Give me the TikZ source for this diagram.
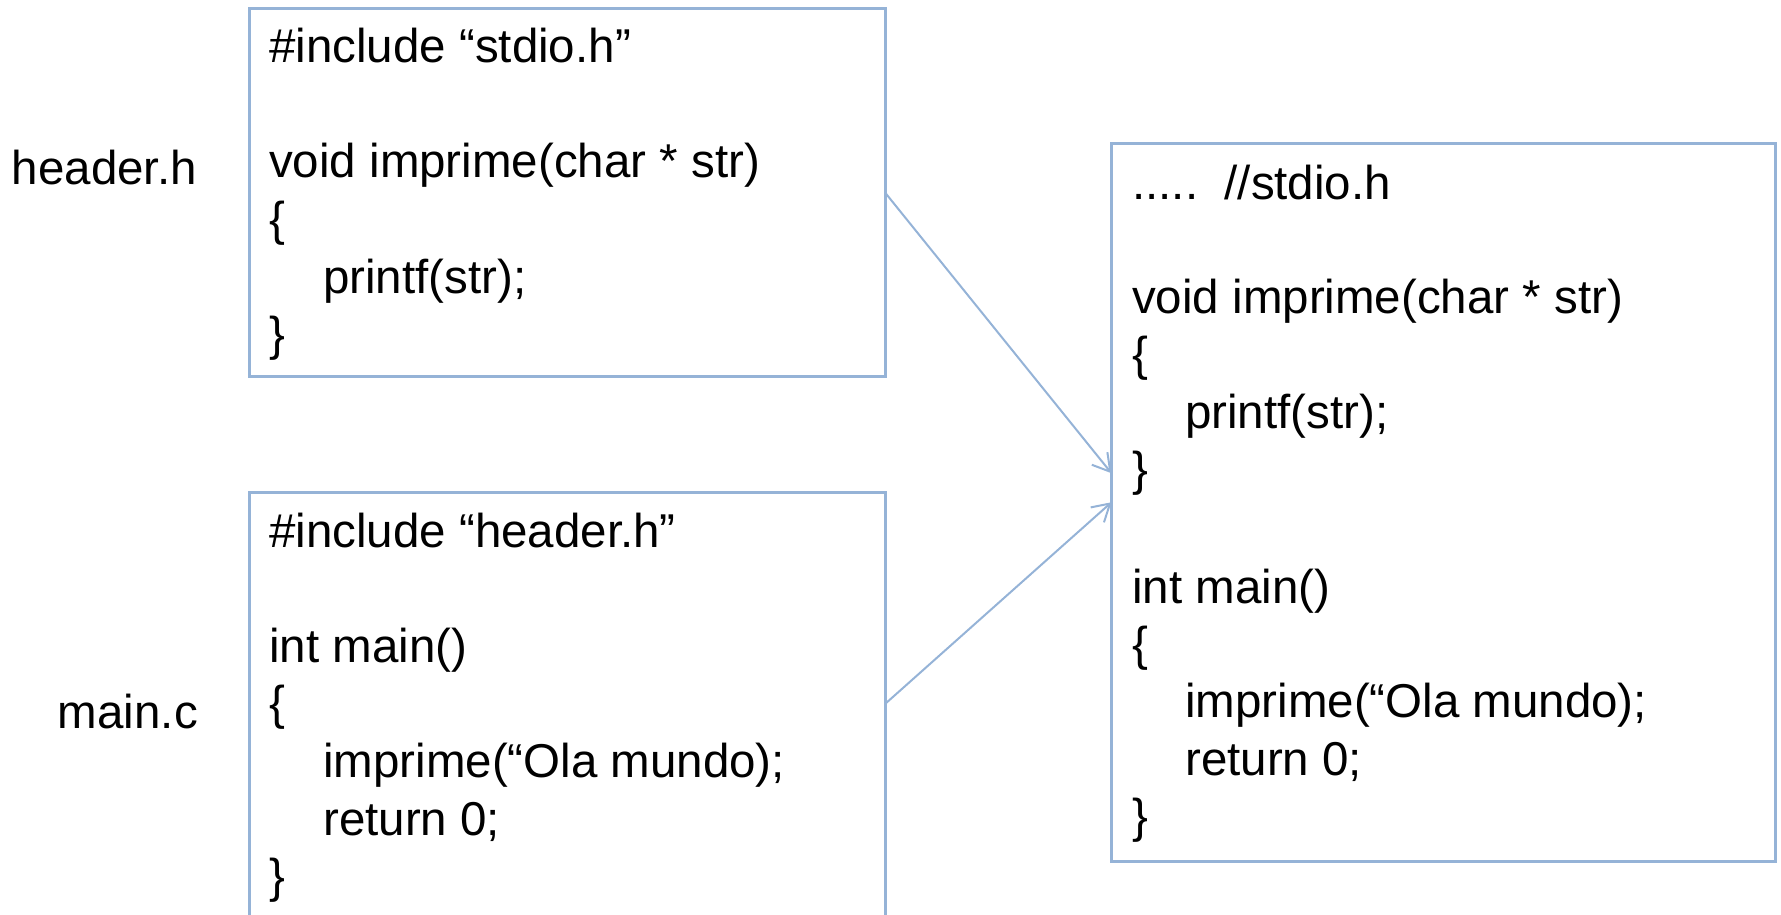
\documentclass[tikz,border=0pt]{standalone}
\usepackage{fontspec}
\setmainfont{Liberation Sans}
\usetikzlibrary{arrows.meta}
\definecolor{edgeblue}{RGB}{149,179,215}
\tikzset{
  codebox/.style={draw=edgeblue, line width=3pt, rectangle, inner sep=0pt, outer sep=0pt, fill=none},
  codeline/.style={anchor=base west, inner sep=0pt, font=\fontsize{47.5}{57}\selectfont},
  filelabel/.style={anchor=base east, inner sep=0pt, font=\fontsize{47.5}{57}\selectfont},
  link/.style={draw=edgeblue, line width=2pt, -{Straight Barb[length=17pt,width=20pt]}}
}
\begin{document}
\begin{tikzpicture}[x=1pt,y=-1pt]
\useasboundingbox (0,0) rectangle (1781,915);
\clip (0,0) rectangle (1781,915);
% boxes
\node[codebox, minimum width=636pt, minimum height=367pt] (b1) at (567,192.5) {};
\node[codebox, minimum width=636pt, minimum height=424pt] (b2) at (567,704) {};
\node[codebox, minimum width=664pt, minimum height=717.5pt] (b3) at (1443.5,502.25) {};
% labels
\node[filelabel] (lh) at (197,185) {header.h};
\node[filelabel] (lm) at (198,728) {main.c};
% box 1 text
\node[codeline] (t11) at (269,63) {\#include “stdio.h”};
\node[codeline] (t12) at (269,178) {void imprime(char * str)};
\node[codeline] (t13) at (269,235.5) {\{};
\node[codeline] (t14) at (323,293) {printf(str);};
\node[codeline] (t15) at (269,350.5) {\}};
% box 2 text
\node[codeline] (t21) at (269,547) {\#include “header.h”};
\node[codeline] (t22) at (269,662) {int main()};
\node[codeline] (t23) at (269,719.5) {\{};
\node[codeline] (t24) at (323,777) {imprime(“Ola mundo);};
\node[codeline] (t25) at (323,835) {return 0;};
\node[codeline] (t26) at (269,892) {\}};
% box 3 text
\node[codeline] (t31) at (1132,200) {.....\ \ //stdio.h};
\node[codeline] (t32) at (1132,313) {void imprime(char * str)};
\node[codeline] (t33) at (1132,370.5) {\{};
\node[codeline] (t34) at (1185,428) {printf(str);};
\node[codeline] (t35) at (1132,485.5) {\}};
\node[codeline] (t36) at (1132,603) {int main()};
\node[codeline] (t37) at (1132,660.5) {\{};
\node[codeline] (t38) at (1185,717) {imprime(“Ola mundo);};
\node[codeline] (t39) at (1185,775) {return 0;};
\node[codeline] (t310) at (1132,832) {\}};
% connectors
\draw[link] (b1.east) -- ([yshift=29pt]b3.west);
\draw[link] (b2.east) -- (b3.west);
\end{tikzpicture}
\end{document}
